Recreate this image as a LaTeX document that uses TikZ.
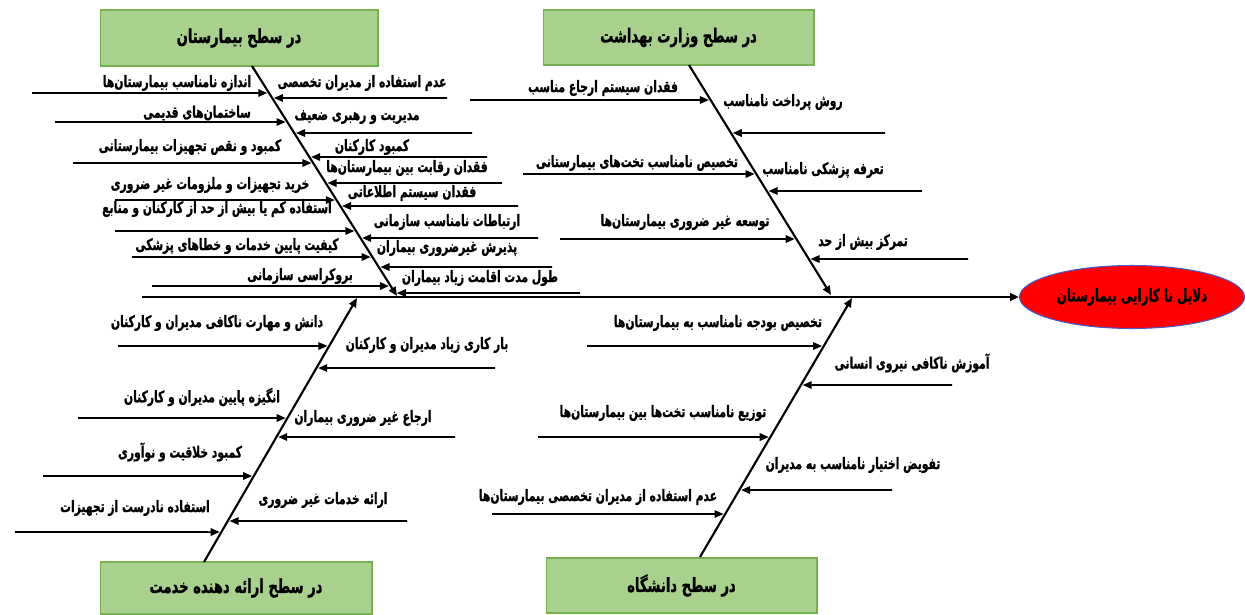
\documentclass[tikz,border=0pt]{standalone}
\usepackage{fontspec}
\usetikzlibrary{shapes.geometric,arrows.meta}
\newfontfamily\farsi[Script=Arabic,FakeStretch=0.68,FakeBold=1]{DejaVu Sans}
\TeXXeTstate=1
\newcommand{\fa}[1]{{\farsi\bfseries\beginR #1\endR}}
\definecolor{boxfill}{RGB}{169,209,142}
\definecolor{boxline}{RGB}{118,176,82}
\definecolor{ovalline}{RGB}{70,90,200}
\begin{document}
\begin{tikzpicture}[>={Triangle[length=1.8mm,width=1.5mm]},x=0.02cm,y=-0.02cm,
	every node/.style={font=\fontsize{9}{10}\selectfont,inner sep=0pt},
	levelbox/.style={draw=boxline,fill=boxfill,line width=0.6pt,font=\fontsize{11}{13}\selectfont},
	bone/.style={->,line width=1.2pt},
	twig/.style={->,line width=0.9pt,shorten >=1pt}]
	\useasboundingbox (0,0) rectangle (1245,615);
	\node[levelbox,minimum width=5.56cm,minimum height=1.12cm] (hosp) at (239,38) {\fa{در سطح  بیمارستان}};
	\node[levelbox,minimum width=5.42cm,minimum height=1.1cm] (vez) at (678.5,37.5) {\fa{در سطح وزارت بهداشت}};
	\node[levelbox,minimum width=5.44cm,minimum height=1.04cm] (prov) at (236,588) {\fa{در سطح ارائه دهنده خدمت}};
	\node[levelbox,minimum width=5.42cm,minimum height=1.1cm] (uni) at (681.5,585.5) {\fa{در سطح دانشگاه}};
	\node[ellipse,draw=ovalline,fill=red,line width=0.6pt,minimum width=4.5cm,minimum height=1.26cm,font=\fontsize{10}{11}\selectfont] (goal) at (1132,297) {\fa{دلایل نا کارایی بیمارستان}};
	\coordinate (tail) at (142,297);
	\draw[->,line width=1.7pt] (tail) -- (goal.west);
	\coordinate (tlA) at (252,66); \coordinate (tlB) at (397,296);
	\coordinate (trA) at (689,65); \coordinate (trB) at (831,295);
	\coordinate (blA) at (204,562); \coordinate (blB) at (357,298);
	\coordinate (brA) at (700,557); \coordinate (brB) at (852,298);
	\draw[bone] (tlA) -- (tlB);
	\draw[bone] (trA) -- (trB);
	\draw[bone] (blA) -- (blB);
	\draw[bone] (brA) -- (brB);
	\foreach \xs/\y/\tx/\ty/\txt [count=\i] in {
		32/93/177/83/{اندازه نامناسب بیمارستان‌ها},
		55/122/197/113/{ساختمان‌های قدیمی},
		73/163/190/147/{کمبود و نقص تجهیزات بیمارستانی},
		115/200/210/185/{خرید تجهیزات و ملزومات غیر ضروری},
		115/231/217/209/{استفاده کم یا بیش از حد از کارکنان و منابع},
		132/257/237/246/{کیفیت پایین خدمات و خطاهای پزشکی},
		152/286/300/276/{بروکراسی سازمانی},
		447/98/362/83/{عدم استفاده از مدیران تخصصی},
		472/133/357/117/{مدیریت و رهبری ضعیف},
		487/157/372/147/{کمبود کارکنان},
		502/183/407/168/{فقدان رقابت بین بیمارستان‌ها},
		518/206/412/193/{فقدان سیستم اطلاعاتی},
		538/238/447/222/{ارتباطات نامناسب سازمانی},
		552/267/447/248/{پذیرش غیرضروری بیماران},
		580/293/480/278/{طول مدت اقامت زیاد بیماران}}{
		\coordinate (tls\i) at (\xs,\y);
		\coordinate (tle\i) at (1245,\y);
		\draw[twig] (tls\i) -- (intersection of tlA--tlB and tls\i--tle\i);
		\node (tln\i) at (\tx,\ty) {\fa{\txt}};
	}
	\foreach \xs/\y/\tx/\ty/\txt [count=\i] in {
		470/100/603/88/{فقدان سیستم ارجاع مناسب},
		523/174/637/163/{تخصیص نامناسب تخت‌های بیمارستانی},
		560/239/685/222/{توسعه غیر ضروری بیمارستان‌ها},
		885/133/783/102/{روش پرداخت نامناسب},
		922/191/823/170/{تعرفه پزشکی نامناسب},
		968/259/863/242/{تمرکز بیش از حد}}{
		\coordinate (trs\i) at (\xs,\y);
		\coordinate (tre\i) at (0,\y);
		\draw[twig] (trs\i) -- (intersection of trA--trB and trs\i--tre\i);
		\node (trn\i) at (\tx,\ty) {\fa{\txt}};
	}
	\foreach \xs/\y/\tx/\ty/\txt [count=\i] in {
		118/346/217/323/{دانش و مهارت ناکافی  مدیران و کارکنان},
		78/418/202/397/{انگیزه پایین مدیران و کارکنان},
		43/476/180/452/{کمبود خلاقیت و نوآوری},
		15/532/135/508/{استفاده نادرست از تجهیزات},
		495/368/427/345/{بار کاری زیاد مدیران و کارکنان},
		455/437/363/418/{ارجاع غیر ضروری بیماران},
		407/521/323/500/{ارائه خدمات غیر ضروری}}{
		\coordinate (bls\i) at (\xs,\y);
		\coordinate (ble\i) at (1245,\y);
		\draw[twig] (bls\i) -- (intersection of blA--blB and bls\i--ble\i);
		\node (bln\i) at (\tx,\ty) {\fa{\txt}};
	}
	\foreach \xs/\y/\tx/\ty/\txt [count=\i] in {
		587/346/718/323/{تخصیص بودجه نامناسب به بیمارستان‌ها},
		538/437/663/413/{توزیع نامناسب تخت‌ها بین بیمارستان‌ها},
		492/514/598/497/{عدم استفاده از مدیران تخصصی بیمارستان‌ها},
		952/385/912/363/{آموزش ناکافی نیروی انسانی},
		892/490/853/465/{تفویض اختیار نامناسب به مدیران}}{
		\coordinate (brs\i) at (\xs,\y);
		\coordinate (bre\i) at (0,\y);
		\draw[twig] (brs\i) -- (intersection of brA--brB and brs\i--bre\i);
		\node (brn\i) at (\tx,\ty) {\fa{\txt}};
	}
\end{tikzpicture}
\end{document}
